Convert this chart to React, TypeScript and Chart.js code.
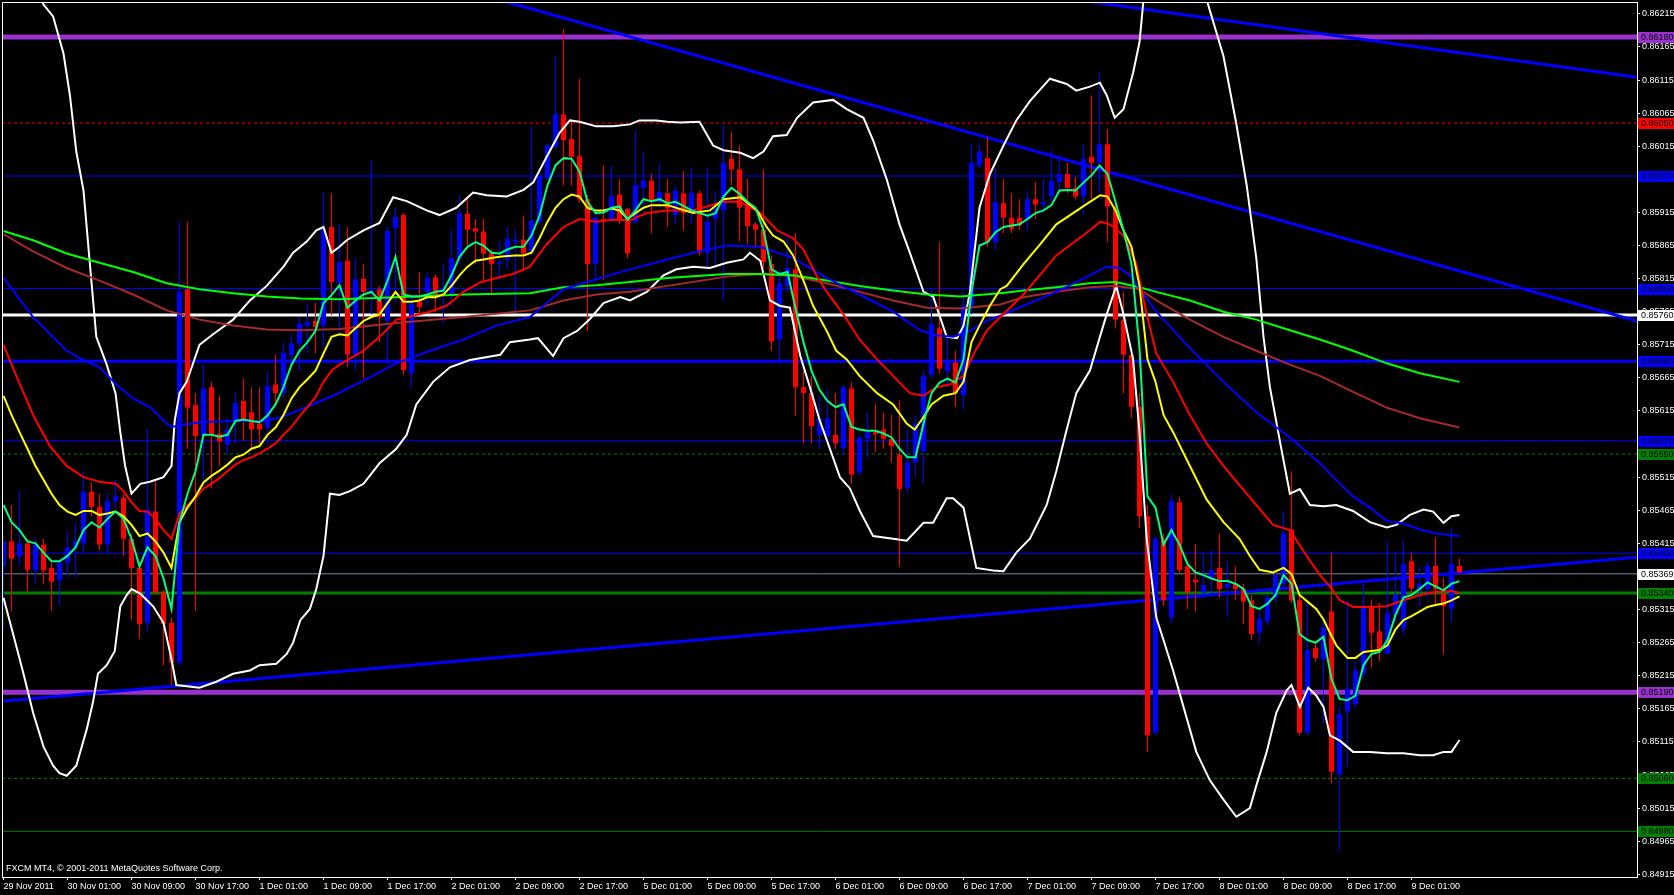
import React, { useEffect, useRef } from "react";
import { Chart, registerables } from "chart.js";

Chart.register(...registerables);

// ---------- candles (hourly bars, index 0 = 29 Nov 2011 17:00) ----------
const opens = [
  0.85380, 0.85418, 0.85395, 0.85415, 0.85374, 0.85413, 0.85378, 0.85359, 0.85386, 0.85409,
  0.85415, 0.85493, 0.85470, 0.85413, 0.85479, 0.85484, 0.85422, 0.85378, 0.85295, 0.85463,
  0.85341, 0.85295, 0.85235, 0.85799, 0.85624, 0.85577, 0.85651, 0.85581, 0.85564, 0.85600,
  0.85630, 0.85613, 0.85596, 0.85590, 0.85655, 0.85642, 0.85700, 0.85717, 0.85744, 0.85751,
  0.85744, 0.85893, 0.85808, 0.85842, 0.85700, 0.85815, 0.85795, 0.85799, 0.85751, 0.85891,
  0.85911, 0.85672, 0.85780, 0.85795, 0.85817, 0.85789, 0.85789, 0.85846, 0.85913, 0.85891,
  0.85886, 0.85853, 0.85837, 0.85844, 0.85870, 0.85874, 0.85855, 0.85901, 0.85967, 0.86014,
  0.86063, 0.86026, 0.86000, 0.85935, 0.85837, 0.85905, 0.85905, 0.85942, 0.85920, 0.85901,
  0.85952, 0.85963, 0.85931, 0.85944, 0.85911, 0.85944, 0.85914, 0.85944, 0.85854, 0.85905,
  0.85918, 0.85996, 0.85980, 0.85929, 0.85897, 0.85889, 0.85837, 0.85723, 0.85804, 0.85829,
  0.85651, 0.85642, 0.85579, 0.85577, 0.85579, 0.85559, 0.85649, 0.85522, 0.85573, 0.85583,
  0.85587, 0.85573, 0.85549, 0.85499, 0.85537, 0.85554, 0.85670, 0.85740, 0.85675, 0.85688,
  0.85638, 0.85774, 0.85986, 0.85997, 0.85870, 0.85929, 0.85907, 0.85907, 0.85905, 0.85935,
  0.85927, 0.85939, 0.85961, 0.85973, 0.85952, 0.85939, 0.85999, 0.85990, 0.86018, 0.85924,
  0.85753, 0.85700, 0.85621, 0.85456, 0.85129, 0.85422, 0.85303, 0.85477, 0.85381, 0.85360,
  0.85341, 0.85363, 0.85378, 0.85348, 0.85354, 0.85346, 0.85329, 0.85280, 0.85297, 0.85333,
  0.85354, 0.85436, 0.85329, 0.85129, 0.85257, 0.85240, 0.85312, 0.85066, 0.85161, 0.85172,
  0.85218, 0.85318, 0.85282, 0.85248, 0.85307, 0.85286, 0.85388, 0.85344, 0.85346, 0.85381,
  0.85339, 0.85316, 0.85381,
];
const highs = [
  0.85426, 0.85473, 0.85494, 0.85422, 0.85422, 0.85422, 0.85388, 0.85392, 0.85435, 0.85447,
  0.85524, 0.85507, 0.85490, 0.85490, 0.85511, 0.85490, 0.85430, 0.85388, 0.85587, 0.85511,
  0.85345, 0.85303, 0.85901, 0.85901, 0.85642, 0.85685, 0.85659, 0.85638, 0.85604, 0.85642,
  0.85664, 0.85651, 0.85651, 0.85676, 0.85700, 0.85719, 0.85731, 0.85757, 0.85778, 0.85778,
  0.85945, 0.85944, 0.85897, 0.85893, 0.85846, 0.85837, 0.85994, 0.85804, 0.85893, 0.85922,
  0.85914, 0.85787, 0.85825, 0.85825, 0.85821, 0.85837, 0.85889, 0.85941, 0.85939, 0.85905,
  0.85905, 0.85859, 0.85871, 0.85893, 0.85889, 0.85910, 0.86045, 0.85982, 0.86020, 0.86151,
  0.86192, 0.86054, 0.86117, 0.85941, 0.85916, 0.85986, 0.85986, 0.85965, 0.85922, 0.86039,
  0.86006, 0.85973, 0.85990, 0.85965, 0.85956, 0.85977, 0.85982, 0.85948, 0.85982, 0.85948,
  0.86048, 0.86037, 0.86016, 0.85966, 0.85901, 0.85980, 0.85850, 0.85829, 0.85882, 0.85884,
  0.85676, 0.85668, 0.85638, 0.85647, 0.85642, 0.85655, 0.85659, 0.85579, 0.85613, 0.85626,
  0.85613, 0.85609, 0.85632, 0.85587, 0.85609, 0.85676, 0.85799, 0.85870, 0.85727, 0.85706,
  0.85795, 0.86020, 0.86020, 0.86028, 0.85982, 0.85965, 0.85944, 0.85935, 0.85948, 0.85961,
  0.85966, 0.86009, 0.86003, 0.85990, 0.85969, 0.86018, 0.86092, 0.86127, 0.86041, 0.85930,
  0.85795, 0.85710, 0.85642, 0.85473, 0.85426, 0.85430, 0.85490, 0.85486, 0.85388, 0.85414,
  0.85401, 0.85405, 0.85430, 0.85388, 0.85380, 0.85354, 0.85337, 0.85312, 0.85337, 0.85375,
  0.85464, 0.85524, 0.85337, 0.85325, 0.85265, 0.85303, 0.85401, 0.85169, 0.85329, 0.85236,
  0.85354, 0.85330, 0.85325, 0.85418, 0.85401, 0.85421, 0.85401, 0.85380, 0.85388, 0.85424,
  0.85363, 0.85439, 0.85392,
];
const lows = [
  0.85286, 0.85313, 0.85380, 0.85341, 0.85354, 0.85354, 0.85313, 0.85322, 0.85363, 0.85363,
  0.85401, 0.85456, 0.85405, 0.85401, 0.85469, 0.85396, 0.85299, 0.85271, 0.85282, 0.85337,
  0.85231, 0.85201, 0.85231, 0.85558, 0.85313, 0.85507, 0.85498, 0.85532, 0.85549, 0.85566,
  0.85570, 0.85558, 0.85566, 0.85566, 0.85625, 0.85634, 0.85681, 0.85676, 0.85702, 0.85702,
  0.85710, 0.85760, 0.85727, 0.85681, 0.85676, 0.85664, 0.85761, 0.85719, 0.85685, 0.85778,
  0.85670, 0.85651, 0.85761, 0.85774, 0.85765, 0.85748, 0.85774, 0.85837, 0.85863, 0.85837,
  0.85808, 0.85791, 0.85812, 0.85829, 0.85765, 0.85827, 0.85850, 0.85897, 0.85963, 0.86011,
  0.85956, 0.85956, 0.85930, 0.85736, 0.85812, 0.85812, 0.85901, 0.85897, 0.85846, 0.85897,
  0.85910, 0.85884, 0.85922, 0.85893, 0.85897, 0.85888, 0.85897, 0.85850, 0.85829, 0.85829,
  0.85782, 0.85956, 0.85871, 0.85867, 0.85863, 0.85830, 0.85706, 0.85685, 0.85795, 0.85608,
  0.85566, 0.85566, 0.85558, 0.85566, 0.85558, 0.85549, 0.85505, 0.85519, 0.85545, 0.85553,
  0.85558, 0.85537, 0.85380, 0.85490, 0.85515, 0.85505, 0.85664, 0.85672, 0.85651, 0.85621,
  0.85617, 0.85761, 0.85982, 0.85863, 0.85859, 0.85884, 0.85884, 0.85888, 0.85888, 0.85905,
  0.85914, 0.85931, 0.85944, 0.85944, 0.85935, 0.85912, 0.85935, 0.85944, 0.85870, 0.85740,
  0.85642, 0.85604, 0.85439, 0.85100, 0.85125, 0.85320, 0.85295, 0.85371, 0.85316, 0.85312,
  0.85333, 0.85337, 0.85333, 0.85303, 0.85329, 0.85293, 0.85269, 0.85265, 0.85291, 0.85325,
  0.85346, 0.85325, 0.85125, 0.85125, 0.85236, 0.85142, 0.85053, 0.84951, 0.85078, 0.85166,
  0.85210, 0.85227, 0.85237, 0.85248, 0.85295, 0.85278, 0.85336, 0.85320, 0.85333, 0.85320,
  0.85248, 0.85295, 0.85371,
];
const closes = [
  0.85418, 0.85392, 0.85415, 0.85375, 0.85413, 0.85374, 0.85357, 0.85386, 0.85409, 0.85418,
  0.85493, 0.85470, 0.85413, 0.85479, 0.85486, 0.85422, 0.85378, 0.85293, 0.85466, 0.85341,
  0.85293, 0.85235, 0.85795, 0.85620, 0.85577, 0.85649, 0.85579, 0.85569, 0.85587, 0.85627,
  0.85602, 0.85587, 0.85587, 0.85653, 0.85642, 0.85703, 0.85717, 0.85747, 0.85750, 0.85742,
  0.85890, 0.85810, 0.85840, 0.85700, 0.85814, 0.85795, 0.85797, 0.85757, 0.85887, 0.85908,
  0.85677, 0.85778, 0.85772, 0.85816, 0.85789, 0.85792, 0.85846, 0.85913, 0.85889, 0.85886,
  0.85853, 0.85837, 0.85840, 0.85875, 0.85874, 0.85853, 0.85903, 0.85970, 0.86016, 0.86064,
  0.86024, 0.85999, 0.85935, 0.85837, 0.85907, 0.85902, 0.85940, 0.85905, 0.85853, 0.85956,
  0.85963, 0.85933, 0.85946, 0.85921, 0.85948, 0.85914, 0.85944, 0.85854, 0.85901, 0.85922,
  0.85990, 0.85980, 0.85922, 0.85894, 0.85889, 0.85840, 0.85720, 0.85808, 0.85831, 0.85651,
  0.85642, 0.85592, 0.85604, 0.85604, 0.85566, 0.85651, 0.85519, 0.85575, 0.85583, 0.85580,
  0.85573, 0.85562, 0.85497, 0.85537, 0.85596, 0.85668, 0.85746, 0.85679, 0.85690, 0.85642,
  0.85774, 0.85990, 0.86007, 0.85870, 0.85931, 0.85907, 0.85890, 0.85895, 0.85935, 0.85927,
  0.85931, 0.85963, 0.85973, 0.85952, 0.85939, 0.85996, 0.85990, 0.86018, 0.85924, 0.85753,
  0.85700, 0.85621, 0.85456, 0.85125, 0.85422, 0.85329, 0.85479, 0.85375, 0.85341, 0.85356,
  0.85352, 0.85375, 0.85346, 0.85354, 0.85346, 0.85327, 0.85278, 0.85301, 0.85333, 0.85367,
  0.85430, 0.85329, 0.85129, 0.85254, 0.85242, 0.85288, 0.85070, 0.85157, 0.85195, 0.85223,
  0.85318, 0.85280, 0.85252, 0.85310, 0.85337, 0.85384, 0.85347, 0.85354, 0.85381, 0.85346,
  0.85320, 0.85384, 0.85371,
];

// ---------- indicator lines, [bar index, price] ----------
const fastMA: [number, number][] = [
  [0,.85473],[1,.85447],[2,.85435],[3,.85418],[4,.85415],[5,.85401],[6,.85388],[7,.85388],[8,.85396],[9,.85409],
  [10,.85435],[11,.85447],[12,.85439],[13,.85452],[14,.85463],[15,.85452],[16,.85422],[17,.85380],[18,.85409],[19,.85396],
  [20,.85362],[21,.85316],[22,.85447],[23,.85490],[24,.85524],[25,.85579],[26,.85579],[27,.85576],[28,.85579],[29,.85600],
  [30,.85602],[31,.85600],[32,.85598],[33,.85608],[34,.85625],[35,.85651],[36,.85685],[37,.85706],[38,.85719],[39,.85736],
  [40,.85778],[41,.85790],[42,.85805],[43,.85771],[44,.85782],[45,.85791],[46,.85795],[47,.85782],[48,.85812],[49,.85848],
  [50,.85791],[51,.85788],[52,.85788],[53,.85791],[54,.85795],[55,.85797],[56,.85820],[57,.85848],[58,.85863],[59,.85870],
  [60,.85865],[61,.85854],[62,.85853],[63,.85859],[64,.85863],[65,.85863],[66,.85880],[67,.85910],[68,.85956],[69,.85986],
  [70,.85997],[71,.85996],[72,.85977],[73,.85931],[74,.85914],[75,.85915],[76,.85922],[77,.85924],[78,.85904],[79,.85918],
  [80,.85935],[81,.85932],[82,.85935],[83,.85929],[84,.85931],[85,.85925],[86,.85918],[88,.85910],[89,.85914],
  [90,.85939],[91,.85952],[92,.85943],[93,.85931],[94,.85922],[95,.85888],[96,.85829],[97,.85822],[98,.85825],[99,.85770],
  [100,.85719],[101,.85676],[102,.85647],[103,.85630],[104,.85621],[105,.85625],[106,.85591],[107,.85587],[108,.85585],[109,.85585],
  [110,.85581],[111,.85575],[112,.85558],[113,.85545],[114,.85545],[115,.85596],[116,.85642],[117,.85658],[118,.85664],[119,.85658],
  [120,.85693],[121,.85795],[122,.85865],[123,.85870],[124,.85885],[125,.85893],[127,.85897],[128,.85905],[129,.85914],
  [130,.85918],[131,.85926],[132,.85948],[133,.85949],[134,.85948],[135,.85960],[136,.85971],[137,.85986],[138,.85973],[139,.85931],
  [140,.85888],[141,.85837],[142,.85710],[143,.85486],[144,.85469],[145,.85413],[146,.85435],[147,.85413],[148,.85384],[149,.85371],
  [150,.85367],[151,.85362],[152,.85358],[153,.85358],[154,.85354],[155,.85346],[156,.85320],[157,.85316],[158,.85324],[159,.85337],
  [160,.85367],[161,.85354],[162,.85278],[163,.85269],[164,.85265],[165,.85274],[166,.85210],[167,.85180],[168,.85178],[169,.85185],
  [170,.85231],[171,.85248],[172,.85251],[173,.85269],[174,.85307],[175,.85333],[176,.85337],[177,.85346],[178,.85356],[179,.85350],
  [180,.85344],[181,.85354],[182,.85358],
];
const yellowMA: [number, number][] = [
  [0,.85638],[1,.85609],[2,.85583],[3,.85558],[4,.85532],[5,.85511],[6,.85490],[7,.85473],[8,.85463],[9,.85458],
  [10,.85464],[11,.85464],[12,.85458],[13,.85460],[14,.85463],[15,.85456],[16,.85443],[17,.85426],[18,.85430],[19,.85418],
  [20,.85401],[21,.85378],[22,.85447],[23,.85469],[24,.85486],[25,.85507],[26,.85517],[27,.85525],[28,.85534],[29,.85545],
  [30,.85549],[31,.85558],[32,.85562],[33,.85579],[34,.85590],[35,.85609],[36,.85634],[37,.85651],[38,.85663],[39,.85676],
  [40,.85702],[41,.85727],[42,.85731],[43,.85729],[44,.85740],[45,.85751],[46,.85757],[47,.85761],[48,.85778],[49,.85795],
  [50,.85780],[51,.85780],[52,.85782],[53,.85787],[54,.85787],[55,.85791],[56,.85804],[57,.85820],[58,.85833],[59,.85842],
  [60,.85844],[61,.85846],[62,.85848],[63,.85849],[64,.85850],[65,.85850],[66,.85854],[67,.85876],[68,.85901],[69,.85922],
  [70,.85935],[71,.85942],[72,.85939],[73,.85922],[74,.85918],[75,.85918],[76,.85921],[77,.85918],[78,.85905],[79,.85914],
  [80,.85922],[81,.85926],[82,.85926],[83,.85926],[86.2,.85914],[88.3,.85918],[90,.85935],[92.1,.85938],[94.2,.85918],
  [95.4,.85893],[96.2,.85880],[97.5,.85871],[98.7,.85850],[100,.85812],[101.2,.85774],[102.9,.85736],[104.1,.85706],
  [105.4,.85693],[107,.85668],[109.2,.85642],[111.2,.85625],[112.9,.85596],[113.9,.85587],[114.9,.85604],[116,.85625],
  [117.5,.85638],[119,.85642],[120,.85659],[121,.85719],[122,.85744],[123.3,.85774],[124.6,.85799],[125.4,.85804],
  [127.5,.85837],[129.6,.85867],[131.6,.85897],[133.7,.85914],[135.8,.85931],[137.1,.85941],[138,.85939],[139,.85918],
  [140,.85888],[141,.85863],[142,.85804],[143,.85693],[144,.85659],[145,.85609],[146.2,.85583],[148.3,.85532],
  [150.4,.85481],[152.5,.85447],[154.5,.85422],[155.8,.85396],[157,.85375],[158.7,.85371],[160,.85378],[161,.85369],
  [162,.85337],[163,.85327],[164.1,.85316],[165,.85300],[165.8,.85280],[166.6,.85261],[168,.85242],[169,.85242],
  [170,.85251],[172,.85254],[173,.85261],[174,.85285],[175,.85299],[176,.85305],[177,.85312],[178,.85319],[179,.85322],
  [180,.85324],[181,.85329],[182,.85335],
];
const redMA: [number, number][] = [
  [0,.85715],[1.6,.85668],[3.7,.85609],[5.8,.85562],[7.9,.85532],[10,.85515],[12,.85508],[14,.85505],[15,.85494],[16,.85477],
  [17,.85464],[18,.85463],[19,.85452],[20,.85435],[21,.85422],[22,.85460],[23,.85473],[24,.85483],[25,.85498],[26,.85505],
  [27,.85514],[28,.85524],[29,.85534],[30,.85541],[31,.85545],[32,.85551],[33,.85558],[34,.85566],[35,.85579],[36,.85591],
  [37,.85607],[38,.85621],[39,.85636],[40,.85659],[41,.85676],[42,.85685],[45,.85706],[47,.85727],[48.1,.85740],[49.1,.85753],
  [51.2,.85759],[53.3,.85765],[55.4,.85774],[57.5,.85795],[59.5,.85809],[61.6,.85816],[63.7,.85822],[65.8,.85833],
  [67.9,.85867],[70,.85893],[72,.85905],[74.1,.85901],[76.2,.85904],[78.3,.85903],[80.4,.85914],[83,.85918],[86.2,.85918],
  [90,.85931],[92.1,.85931],[94.6,.85914],[96.7,.85888],[98.7,.85876],[100,.85859],[101.6,.85820],[102.9,.85795],
  [105,.85761],[107,.85723],[109.2,.85693],[111.2,.85668],[113.3,.85642],[115,.85638],[116.6,.85651],[118.3,.85655],
  [120,.85668],[121.3,.85702],[122.9,.85736],[124.6,.85757],[127.5,.85791],[131.6,.85850],[135.8,.85888],[137.1,.85901],
  [138.3,.85897],[140,.85880],[141.6,.85837],[142.9,.85761],[144.1,.85702],[146.2,.85659],[148.3,.85609],[150.4,.85566],
  [152.5,.85532],[154.5,.85503],[156.6,.85473],[158.7,.85443],[160.8,.85435],[162.9,.85396],[164.55,.85367],[165.8,.85350],
  [167.05,.85329],[168.7,.85319],[170.8,.85319],[172.9,.85320],[175,.85329],[177.05,.85337],[179.1,.85342],[181,.85343],
  [182,.85340],
];
const blueMA: [number, number][] = [
  [0,.85816],[3.7,.85757],[7.9,.85706],[10,.85692],[12,.85681],[14.1,.85655],[16.2,.85634],[18.3,.85621],[20.4,.85596],
  [21,.85591],[22,.85593],[24.5,.85598],[28.7,.85600],[32.9,.85600],[35,.85607],[37.1,.85617],[39.1,.85627],[41.2,.85638],
  [45,.85661],[49.1,.85687],[53.3,.85706],[57.5,.85723],[61.6,.85744],[65.8,.85757],[67.9,.85778],[70,.85799],[74.1,.85814],
  [78.3,.85829],[83,.85844],[86.2,.85854],[90.4,.85865],[94.6,.85863],[98.7,.85846],[102.9,.85816],[107,.85791],
  [111.2,.85765],[114.6,.85737],[116.6,.85729],[118.7,.85727],[120.8,.85736],[122.9,.85751],[124.6,.85759],[127.5,.85774],
  [131.6,.85795],[135.8,.85820],[137.9,.85833],[139.5,.85831],[140.8,.85820],[144.1,.85765],[148.3,.85710],[152.5,.85659],
  [156.6,.85613],[160.8,.85575],[164.55,.85536],[166.6,.85511],[168.7,.85486],[170.8,.85469],[172.9,.85449],[175,.85445],
  [177.05,.85436],[179.1,.85430],[182,.85426],
];
const limeMA: [number, number][] = [
  [0,.85887],[3.7,.85873],[7.9,.85853],[12,.85839],[16.2,.85825],[20.4,.85808],[24.5,.85799],[28.7,.85793],[32.9,.85788],
  [37.1,.85785],[42,.85784],[49.1,.85787],[57.5,.85791],[65.8,.85793],[70,.85802],[74.1,.85805],[78.3,.85810],[83,.85816],
  [90.4,.85822],[94.6,.85822],[98.7,.85820],[102.9,.85812],[107,.85804],[111.2,.85797],[115.4,.85791],[119.6,.85788],
  [124.6,.85793],[127.5,.85797],[131.6,.85802],[135.8,.85808],[139,.85810],[142,.85802],[144.1,.85795],[148.3,.85782],
  [152.5,.85765],[156.6,.85753],[160.8,.85737],[164.55,.85723],[168.7,.85706],[172.9,.85687],[177.05,.85672],[182,.85659],
];
const brownMA: [number, number][] = [
  [0,.85882],[3.7,.85856],[7.9,.85831],[12,.85812],[16.2,.85791],[20.4,.85767],[24.5,.85753],[28.7,.85744],[32.9,.85738],
  [37.1,.85737],[42,.85739],[49.1,.85748],[57.5,.85757],[65.8,.85767],[70,.85782],[74.1,.85791],[78.3,.85795],[83,.85804],
  [90.4,.85818],[94.6,.85822],[98.7,.85819],[102.9,.85808],[107,.85795],[111.2,.85782],[115.4,.85771],[119.6,.85770],
  [124.6,.85776],[127.5,.85787],[131.6,.85795],[135.8,.85802],[139,.85804],[142,.85799],[144.1,.85782],[148.3,.85753],
  [152.5,.85727],[156.6,.85706],[160.8,.85685],[164.55,.85668],[168.7,.85644],[172.9,.85620],[177.05,.85604],[182,.85590],
];
const upperBand: [number, number][] = [
  [0,.86300],[2,.86290],[4,.86260],[5,.86229],[6.2,.86211],[7.5,.86155],[8.3,.86092],[9.1,.86007],[10,.85948],[10.8,.85837],
  [11.6,.85727],[12.9,.85685],[14,.85642],[14.6,.85583],[15.2,.85532],[16,.85490],[17.1,.85505],[18.3,.85508],[20,.85515],
  [21,.85532],[21.4,.85600],[22,.85642],[22.9,.85659],[24.5,.85715],[26.2,.85731],[28.7,.85753],[30.8,.85782],[32.9,.85804],
  [35,.85833],[36.2,.85854],[37.9,.85871],[39.1,.85888],[40,.85893],[41,.85854],[42,.85863],[42.9,.85873],[45,.85888],
  [47,.85899],[48.7,.85938],[50.4,.85932],[52.9,.85918],[54.5,.85911],[56.6,.85922],[58.7,.85945],[60.4,.85941],
  [62.9,.85939],[65,.85949],[66.2,.85960],[67.9,.85999],[69.5,.86035],[70.8,.86054],[72,.86052],[74.1,.86045],[76.2,.86045],
  [78.3,.86048],[79.5,.86054],[81.6,.86054],[83,.86052],[84.6,.86051],[87,.86052],[88.7,.86016],[90,.86009],[92.1,.86005],
  [93.7,.85997],[95,.86007],[96.2,.86030],[97.9,.86032],[99.2,.86058],[101.2,.86081],[103.7,.86085],[105.4,.86071],
  [107.5,.86058],[108.7,.86024],[110.4,.85965],[112,.85897],[113.3,.85854],[115,.85795],[116.2,.85788],[117.9,.85727],
  [119.2,.85725],[120,.85744],[120.8,.85795],[122,.85922],[123.3,.85973],[125,.86016],[126.6,.86054],[128.3,.86083],
  [130.8,.86117],[132.9,.86109],[134.1,.86099],[135.8,.86105],[137.05,.86111],[137.9,.86092],[138.9,.86058],[140,.86071],
  [141.2,.86126],[142,.86172],[142.5,.86236],[143.5,.86330],[145,.86400],[147,.86420],[149,.86340],[150.4,.86236],
  [152.5,.86151],[154.1,.86049],[155.4,.85956],[156.6,.85846],[157.5,.85727],[158.3,.85651],[159.6,.85566],[160.8,.85490],
  [162.05,.85497],[163.3,.85473],[165,.85471],[166.6,.85473],[168.7,.85464],[170.8,.85447],[172.9,.85439],[174.1,.85443],
  [175.8,.85458],[177.5,.85466],[178.7,.85463],[180,.85446],[181,.85456],[182,.85458],
];
const lowerBand: [number, number][] = [
  [0,.85333],[1.2,.85278],[2.5,.85218],[3.7,.85159],[5,.85108],[6.2,.85079],[7,.85068],[7.9,.85064],[9.1,.85079],
  [10.4,.85134],[11.2,.85176],[11.8,.85218],[12.9,.85231],[13.9,.85252],[14.6,.85320],[15.4,.85337],[16,.85346],
  [17.1,.85339],[18.7,.85320],[20,.85295],[21,.85240],[21.6,.85201],[24.5,.85197],[26.6,.85206],[28.7,.85218],
  [30.8,.85223],[32,.85231],[34.1,.85233],[35.4,.85248],[36.2,.85265],[37.1,.85299],[38.3,.85316],[39.1,.85346],
  [40,.85396],[40.8,.85490],[42,.85488],[43.3,.85494],[45,.85505],[47,.85536],[49.1,.85558],[50.4,.85579],[51.6,.85625],
  [53.7,.85659],[55.8,.85681],[58.3,.85692],[62.1,.85700],[63.3,.85719],[65.8,.85723],[66.8,.85725],[68.7,.85698],
  [70,.85725],[71.7,.85736],[73.3,.85754],[75,.85778],[77.1,.85787],[78.3,.85782],[80.4,.85795],[82.5,.85820],
  [84.1,.85829],[86.2,.85833],[88.3,.85831],[90.4,.85839],[92.5,.85844],[93.3,.85854],[94.6,.85842],[95.8,.85782],
  [97,.85774],[98.3,.85771],[99.6,.85698],[100.8,.85651],[102.05,.85600],[103.3,.85558],[104.55,.85515],[105.8,.85498],
  [107.05,.85464],[108.7,.85426],[111.2,.85422],[112.9,.85419],[115,.85446],[116.2,.85446],[117.9,.85483],[118.7,.85483],
  [120,.85469],[121.6,.85378],[123.7,.85374],[125,.85373],[126.6,.85401],[128.3,.85422],[130.4,.85473],[131.6,.85524],
  [132.9,.85587],[134.1,.85642],[135.8,.85676],[137.05,.85727],[137.9,.85761],[139.1,.85804],[140,.85761],[141.2,.85693],
  [142,.85583],[142.9,.85422],[144.1,.85303],[145,.85269],[146.2,.85223],[147.5,.85168],[149.1,.85100],[150.8,.85057],
  [152.5,.85028],[154.1,.85002],[155.8,.85015],[156.6,.85049],[157.9,.85100],[159.1,.85159],[160.4,.85193],[161,.85201],
  [162.05,.85168],[163.1,.85197],[164.1,.85185],[165,.85168],[165.8,.85125],[167.05,.85117],[168.7,.85100],[170.8,.85100],
  [172.9,.85098],[175,.85098],[177.05,.85095],[178.7,.85095],[180,.85100],[181,.85100],[182,.85118],
];

// ---------- trend lines (bar index, price) ----------
const trendMain: [number, number][] = [[55, 0.86260], [204.2, 0.85751]];
const trendTop: [number, number][] = [[130, 0.86243], [204.2, 0.86119]];
const trendLow: [number, number][] = [[-0.5, 0.85176], [204.2, 0.85394]];

// ---------- horizontal levels ----------
const levelPrices = [0.8618, 0.8605, 0.8597, 0.858, 0.8576, 0.8569, 0.8557, 0.8555, 0.854, 0.8534, 0.8519, 0.8506, 0.8498];
const bidPrice = 0.85369;

// ---------- axis labels ----------
const timeLabels = [
  "29 Nov 2011", "30 Nov 01:00", "30 Nov 09:00", "30 Nov 17:00", "1 Dec 01:00", "1 Dec 09:00", "1 Dec 17:00",
  "2 Dec 01:00", "2 Dec 09:00", "2 Dec 17:00", "5 Dec 01:00", "5 Dec 09:00", "5 Dec 17:00", "6 Dec 01:00",
  "6 Dec 09:00", "6 Dec 17:00", "7 Dec 01:00", "7 Dec 09:00", "7 Dec 17:00", "8 Dec 01:00", "8 Dec 09:00",
  "8 Dec 17:00", "9 Dec 01:00",
];
const timeLabelBars = [0, 8, 16, 24, 32, 40, 48, 56, 64, 72, 80, 88, 96, 104, 112, 120, 128, 136, 144, 152, 160, 168, 176];
const priceTicks = [
  0.86215, 0.86165, 0.86115, 0.86065, 0.86015, 0.85965, 0.85915, 0.85865, 0.85815, 0.85765, 0.85715, 0.85665,
  0.85615, 0.85565, 0.85515, 0.85465, 0.85415, 0.85365, 0.85315, 0.85265, 0.85215, 0.85165, 0.85115, 0.85065,
  0.85015, 0.84965, 0.84915,
];
const copyright = "FXCM MT4, \u00A9 2001-2011 MetaQuotes Software Corp.";

// ---------- styles (kept apart from the values) ----------
const PURPLE = "#9932CC";
const BLUE = "#0000FF";
const GREEN = "#008000";
const levelStyles = [
  { color: PURPLE, width: 5, dash: [] as number[], tag: PURPLE },
  { color: "#FF0000", width: 1, dash: [3, 3], tag: "#FF0000" },
  { color: BLUE, width: 1, dash: [], tag: BLUE },
  { color: BLUE, width: 1, dash: [], tag: BLUE },
  { color: "#FFFFFF", width: 3, dash: [], tag: "#FFFFFF" },
  { color: BLUE, width: 3, dash: [], tag: BLUE },
  { color: BLUE, width: 1, dash: [], tag: BLUE },
  { color: GREEN, width: 1, dash: [3, 3], tag: GREEN },
  { color: BLUE, width: 1, dash: [], tag: BLUE },
  { color: GREEN, width: 3, dash: [], tag: GREEN },
  { color: PURPLE, width: 5, dash: [], tag: PURPLE },
  { color: GREEN, width: 1, dash: [3, 3], tag: GREEN },
  { color: GREEN, width: 1, dash: [], tag: GREEN },
];
const FONT = '"Liberation Sans", Arial, sans-serif';
const X_MIN = -0.1875;
const X_MAX = 204.1875;
const Y_MIN = 0.8491098;
const Y_MAX = 0.8623288;

const pts = (arr: [number, number][]) => arr.map(([x, y]) => ({ x, y }));

const overlay = {
  id: "mt4overlay",
  afterDraw(chart: any) {
    const { ctx, chartArea: a, scales } = chart;
    const ys = scales.y;
    const W = chart.width;
    ctx.save();
    ctx.strokeStyle = "#FFFFFF";
    ctx.lineWidth = 1;
    ctx.beginPath();
    ctx.moveTo(a.left + 0.5, a.bottom);
    ctx.lineTo(a.left + 0.5, a.top + 0.5);
    ctx.lineTo(a.right, a.top + 0.5);
    ctx.stroke();

    ctx.font = `9px ${FONT}`;
    ctx.textBaseline = "middle";
    ctx.textAlign = "left";
    ctx.fillStyle = "#FFFFFF";
    ctx.fillText(copyright, a.left + 4, a.bottom - 8);

    const tag = (p: number, bg: string) => {
      const yc = Math.round(ys.getPixelForValue(p));
      ctx.fillStyle = bg;
      ctx.fillRect(a.right + 1, yc - 5, W - a.right - 1, 11);
      ctx.fillStyle = "#000000";
      ctx.fillText(p.toFixed(5), a.right + 4, yc + 0.5);
    };
    levelPrices.forEach((p, k) => tag(p, levelStyles[k].tag));
    tag(bidPrice, "#FFFFFF");
    ctx.restore();
  },
};

export default function App() {
  const ref = useRef<HTMLCanvasElement>(null);
  useEffect(() => {
    document.body.style.margin = "0";
    document.body.style.background = "#000";
    const canvas = ref.current as HTMLCanvasElement;
    const colors = closes.map((c, i) => (c >= opens[i] ? BLUE : "#FF0000"));
    const datasets: any[] = [];

    levelPrices.forEach((p, k) => {
      const s = levelStyles[k];
      datasets.push({
        type: "line",
        data: [{ x: X_MIN, y: p }, { x: X_MAX, y: p }],
        borderColor: s.color,
        borderWidth: s.width,
        borderDash: s.dash,
        pointRadius: 0,
        clip: 0,
        order: 100 + k,
      });
    });
    datasets.push({
      type: "line",
      data: [{ x: X_MIN, y: bidPrice }, { x: X_MAX, y: bidPrice }],
      borderColor: "#778899",
      borderWidth: 1,
      pointRadius: 0,
      clip: 0,
      order: 99,
    });
    [trendMain, trendTop, trendLow].forEach((t, k) => {
      datasets.push({
        type: "line",
        data: pts(t),
        borderColor: BLUE,
        borderWidth: 3,
        pointRadius: 0,
        clip: 0,
        order: 60 + k,
      });
    });
    datasets.push({
      type: "bar",
      data: lows.map((l, i) => ({ x: i, y: [l, highs[i]] })),
      backgroundColor: colors,
      barThickness: 1,
      grouped: false,
      borderWidth: 0,
      inflateAmount: 0,
      order: 50,
    });
    datasets.push({
      type: "bar",
      data: opens.map((o, i) => ({ x: i, y: [o, closes[i]] })),
      backgroundColor: colors,
      barThickness: 5,
      grouped: false,
      borderWidth: 0,
      inflateAmount: 0,
      minBarLength: 1,
      order: 40,
    });
    const lineSets: [[number, number][], string, number][] = [
      [upperBand, "#FFFFFF", 31],
      [lowerBand, "#FFFFFF", 30],
      [brownMA, "#A52A2A", 29],
      [limeMA, "#00FF00", 28],
      [blueMA, BLUE, 27],
      [redMA, "#FF0000", 26],
      [yellowMA, "#FFFF00", 25],
      [fastMA, "#00FF7F", 24],
    ];
    lineSets.forEach(([arr, color, order]) => {
      datasets.push({
        type: "line",
        data: pts(arr),
        borderColor: color,
        borderWidth: 2,
        pointRadius: 0,
        tension: 0,
        clip: 0,
        order,
      });
    });

    const chart = new Chart(canvas, {
      type: "bar",
      data: { datasets },
      options: {
        responsive: false,
        animation: false,
        events: [],
        layout: { padding: { left: 2, top: 2, right: 0, bottom: 0 } },
        plugins: { legend: { display: false }, tooltip: { enabled: false } },
        scales: {
          x: {
            type: "linear",
            min: X_MIN,
            max: X_MAX,
            offset: false,
            position: "bottom",
            grid: { display: true, drawOnChartArea: false, drawTicks: true, tickLength: 3, color: "#FFFFFF", offset: false },
            border: { display: true, color: "#FFFFFF", width: 1 },
            afterBuildTicks: (scale: any) => {
              scale.ticks = timeLabelBars.map((v) => ({ value: v }));
            },
            afterFit: (scale: any) => {
              scale.height = 18;
              scale.paddingLeft = 0;
              scale.paddingRight = 0;
            },
            ticks: {
              autoSkip: false,
              maxRotation: 0,
              minRotation: 0,
              align: "start",
              padding: 1,
              color: "#FFFFFF",
              font: { family: FONT, size: 9 },
              callback: (_v: any, idx: number) => timeLabels[idx],
            },
          },
          y: {
            type: "linear",
            position: "right",
            min: Y_MIN,
            max: Y_MAX,
            grid: { display: true, drawOnChartArea: false, drawTicks: true, tickLength: 3, color: "#FFFFFF" },
            border: { display: true, color: "#FFFFFF", width: 1 },
            afterBuildTicks: (scale: any) => {
              scale.ticks = priceTicks.map((v) => ({ value: v }));
            },
            afterFit: (scale: any) => {
              scale.width = 37;
              scale.paddingTop = 0;
              scale.paddingBottom = 0;
            },
            ticks: {
              autoSkip: false,
              padding: 2,
              color: "#FFFFFF",
              font: { family: FONT, size: 9 },
              callback: (v: any) => Number(v).toFixed(5),
            },
          },
        },
      } as any,
      plugins: [overlay],
    });
    return () => chart.destroy();
  }, []);
  return (
    <canvas
      ref={ref}
      width={1674}
      height={895}
      style={{ display: "block", width: 1674, height: 895, background: "#000" }}
    />
  );
}
